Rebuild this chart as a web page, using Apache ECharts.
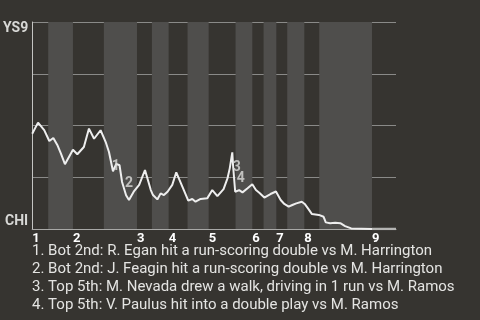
<!DOCTYPE html>
<html>
<head>
<meta charset="utf-8">
<script src="https://cdn.jsdelivr.net/npm/echarts@6/dist/echarts.min.js"></script>
<style>
html,body{margin:0;padding:0;background:#363430;}
#chart{width:480px;height:320px;}
</style>
</head>
<body>
<div id="chart"></div>
<script>
// Team labels (top = away win, bottom = home win)
const teamTop = 'YS9';
const teamBottom = 'CHI';

// Half-inning boundaries in play units (top, bottom, top, bottom, ...)
const halfInningBreaks = [0, 4.4, 11.2, 19.7, 28.8, 32.9, 37.5, 42.7, 48.5, 55.9, 60.5, 63.6, 67.1, 70.1, 74.8, 78.9, 93.4, 100];
const inningLabels = ['1','2','3','4','5','6','7','8','9'];

// Win probability path (play index, probability for top team)
const playX = [0, 1.6, 3.3, 4.7, 5.8, 6.9, 7.9, 9.0, 10.1, 11.2, 12.4, 14.2, 15.6, 17.0, 18.8, 20.2, 21.1, 22.2, 23.1, 24.0, 24.7, 25.8, 26.6, 27.9, 29.4, 31.0, 32.6, 33.2, 34.4, 35.3, 36.2, 37.2, 38.5, 39.6, 41.3, 42.9, 44.0, 44.9, 46.3, 48.1, 49.5, 50.9, 52.6, 53.7, 54.3, 55.0, 55.2, 55.8, 56.9, 57.8, 59.2, 60.5, 61.5, 62.5, 63.8, 65.5, 67.0, 68.3, 69.3, 70.5, 71.5, 72.6, 74.1, 74.9, 75.9, 76.9, 78.8, 80.1, 80.7, 81.9, 83.3, 84.7, 86.0, 87.7, 93.4];
const winProb = [0.46, 0.514, 0.478, 0.425, 0.44, 0.406, 0.364, 0.313, 0.348, 0.383, 0.361, 0.396, 0.485, 0.436, 0.477, 0.42, 0.372, 0.279, 0.315, 0.308, 0.227, 0.163, 0.14, 0.18, 0.213, 0.285, 0.188, 0.164, 0.143, 0.172, 0.164, 0.18, 0.213, 0.274, 0.204, 0.137, 0.145, 0.132, 0.145, 0.148, 0.188, 0.159, 0.193, 0.246, 0.293, 0.37, 0.309, 0.18, 0.188, 0.177, 0.197, 0.216, 0.188, 0.174, 0.152, 0.169, 0.181, 0.14, 0.121, 0.108, 0.116, 0.124, 0.132, 0.121, 0.097, 0.072, 0.068, 0.059, 0.032, 0.028, 0.03, 0.028, 0.014, 0.003, 0.0];
// Final half inning (not played out) shown as a flat grey segment
const tailX = [93.4, 100];
const tailProb = [0, 0];

// Annotation markers (label position in play/probability units)
const noteX = [23.0, 26.6, 56.2, 57.3];
const noteProb = [0.300, 0.22, 0.295, 0.246];
const noteLabels = ['1', '2', '3', '4'];
const noteTexts = [
  '1. Bot 2nd: R. Egan hit a run-scoring double vs M. Harrington',
  '2. Bot 2nd: J. Feagin hit a run-scoring double vs M. Harrington',
  '3. Top 5th: M. Nevada drew a walk, driving in 1 run vs M. Ramos',
  '4. Top 5th: V. Paulus hit into a double play vs M. Ramos'
];

const inningStarts = halfInningBreaks.filter((v, i) => i % 2 === 0 && i < halfInningBreaks.length - 1);
const bands = [];
for (let i = 1; i + 1 < halfInningBreaks.length; i += 2) {
  bands.push([{ xAxis: halfInningBreaks[i] }, { xAxis: halfInningBreaks[i + 1] }]);
}

const chart = echarts.init(document.getElementById('chart'), null, { renderer: 'canvas' });
chart.setOption({
  backgroundColor: '#363430',
  animation: false,
  grid: { left: 31, top: 22, right: 84, bottom: 91, containLabel: false },
  xAxis: {
    type: 'value', min: 0, max: 100,
    axisLine: { show: true, lineStyle: { color: '#a8a8a6', width: 1 } },
    axisTick: { show: false },
    splitLine: { show: false },
    axisLabel: {
      customValues: inningStarts,
      formatter: v => inningLabels[inningStarts.indexOf(v)] || '',
      color: '#ffffff', fontFamily: 'Roboto', fontWeight: 'bold', fontSize: 13,
      align: 'left', margin: 3
    }
  },
  yAxis: {
    type: 'value', min: 0, max: 1, interval: 0.25,
    axisLine: { show: true, lineStyle: { color: '#c4c4c2', width: 1 } },
    axisTick: { show: false },
    splitLine: { show: true, lineStyle: { color: '#8a8a88', width: 1 } },
    axisLabel: {
      customValues: [0, 1],
      formatter: v => v === 1 ? '{t|' + teamTop + '}' : (v === 0 ? '{b|' + teamBottom + '}' : ''),
      margin: 4,
      rich: {
        t: { color: '#d8d8d6', fontFamily: 'Roboto', fontWeight: 'bold', fontSize: 14, padding: [12, 0, 0, 0] },
        b: { color: '#d8d8d6', fontFamily: 'Roboto', fontWeight: 'bold', fontSize: 14, padding: [0, 0, 16, 0] }
      }
    }
  },
  series: [
    {
      type: 'line', silent: true, data: [],
      markArea: { silent: true, itemStyle: { color: '#4f4e4c' }, data: bands }
    },
    {
      type: 'line', showSymbol: false, silent: true,
      data: playX.map((x, i) => [x, winProb[i]]),
      lineStyle: { color: '#eeeeee', width: 2 },
      z: 5
    },
    {
      type: 'line', showSymbol: false, silent: true,
      data: tailX.map((x, i) => [x, tailProb[i]]),
      lineStyle: { color: '#b4b4b2', width: 2.5 },
      z: 4
    },
    {
      type: 'scatter', symbolSize: 0, silent: true,
      data: noteX.map((x, i) => [x, noteProb[i]]),
      label: {
        show: true, position: 'inside',
        formatter: p => noteLabels[p.dataIndex],
        color: '#dcdcda', fontFamily: 'Roboto', fontWeight: 'bold', fontSize: 14
      },
      z: 6
    }
  ],
  graphic: noteTexts.map((t, i) => ({
    type: 'text', left: 32, top: 244 + i * 18,
    style: { text: t, fill: '#e4e4e2', font: '15px Roboto' }
  }))
});
</script>
</body>
</html>
